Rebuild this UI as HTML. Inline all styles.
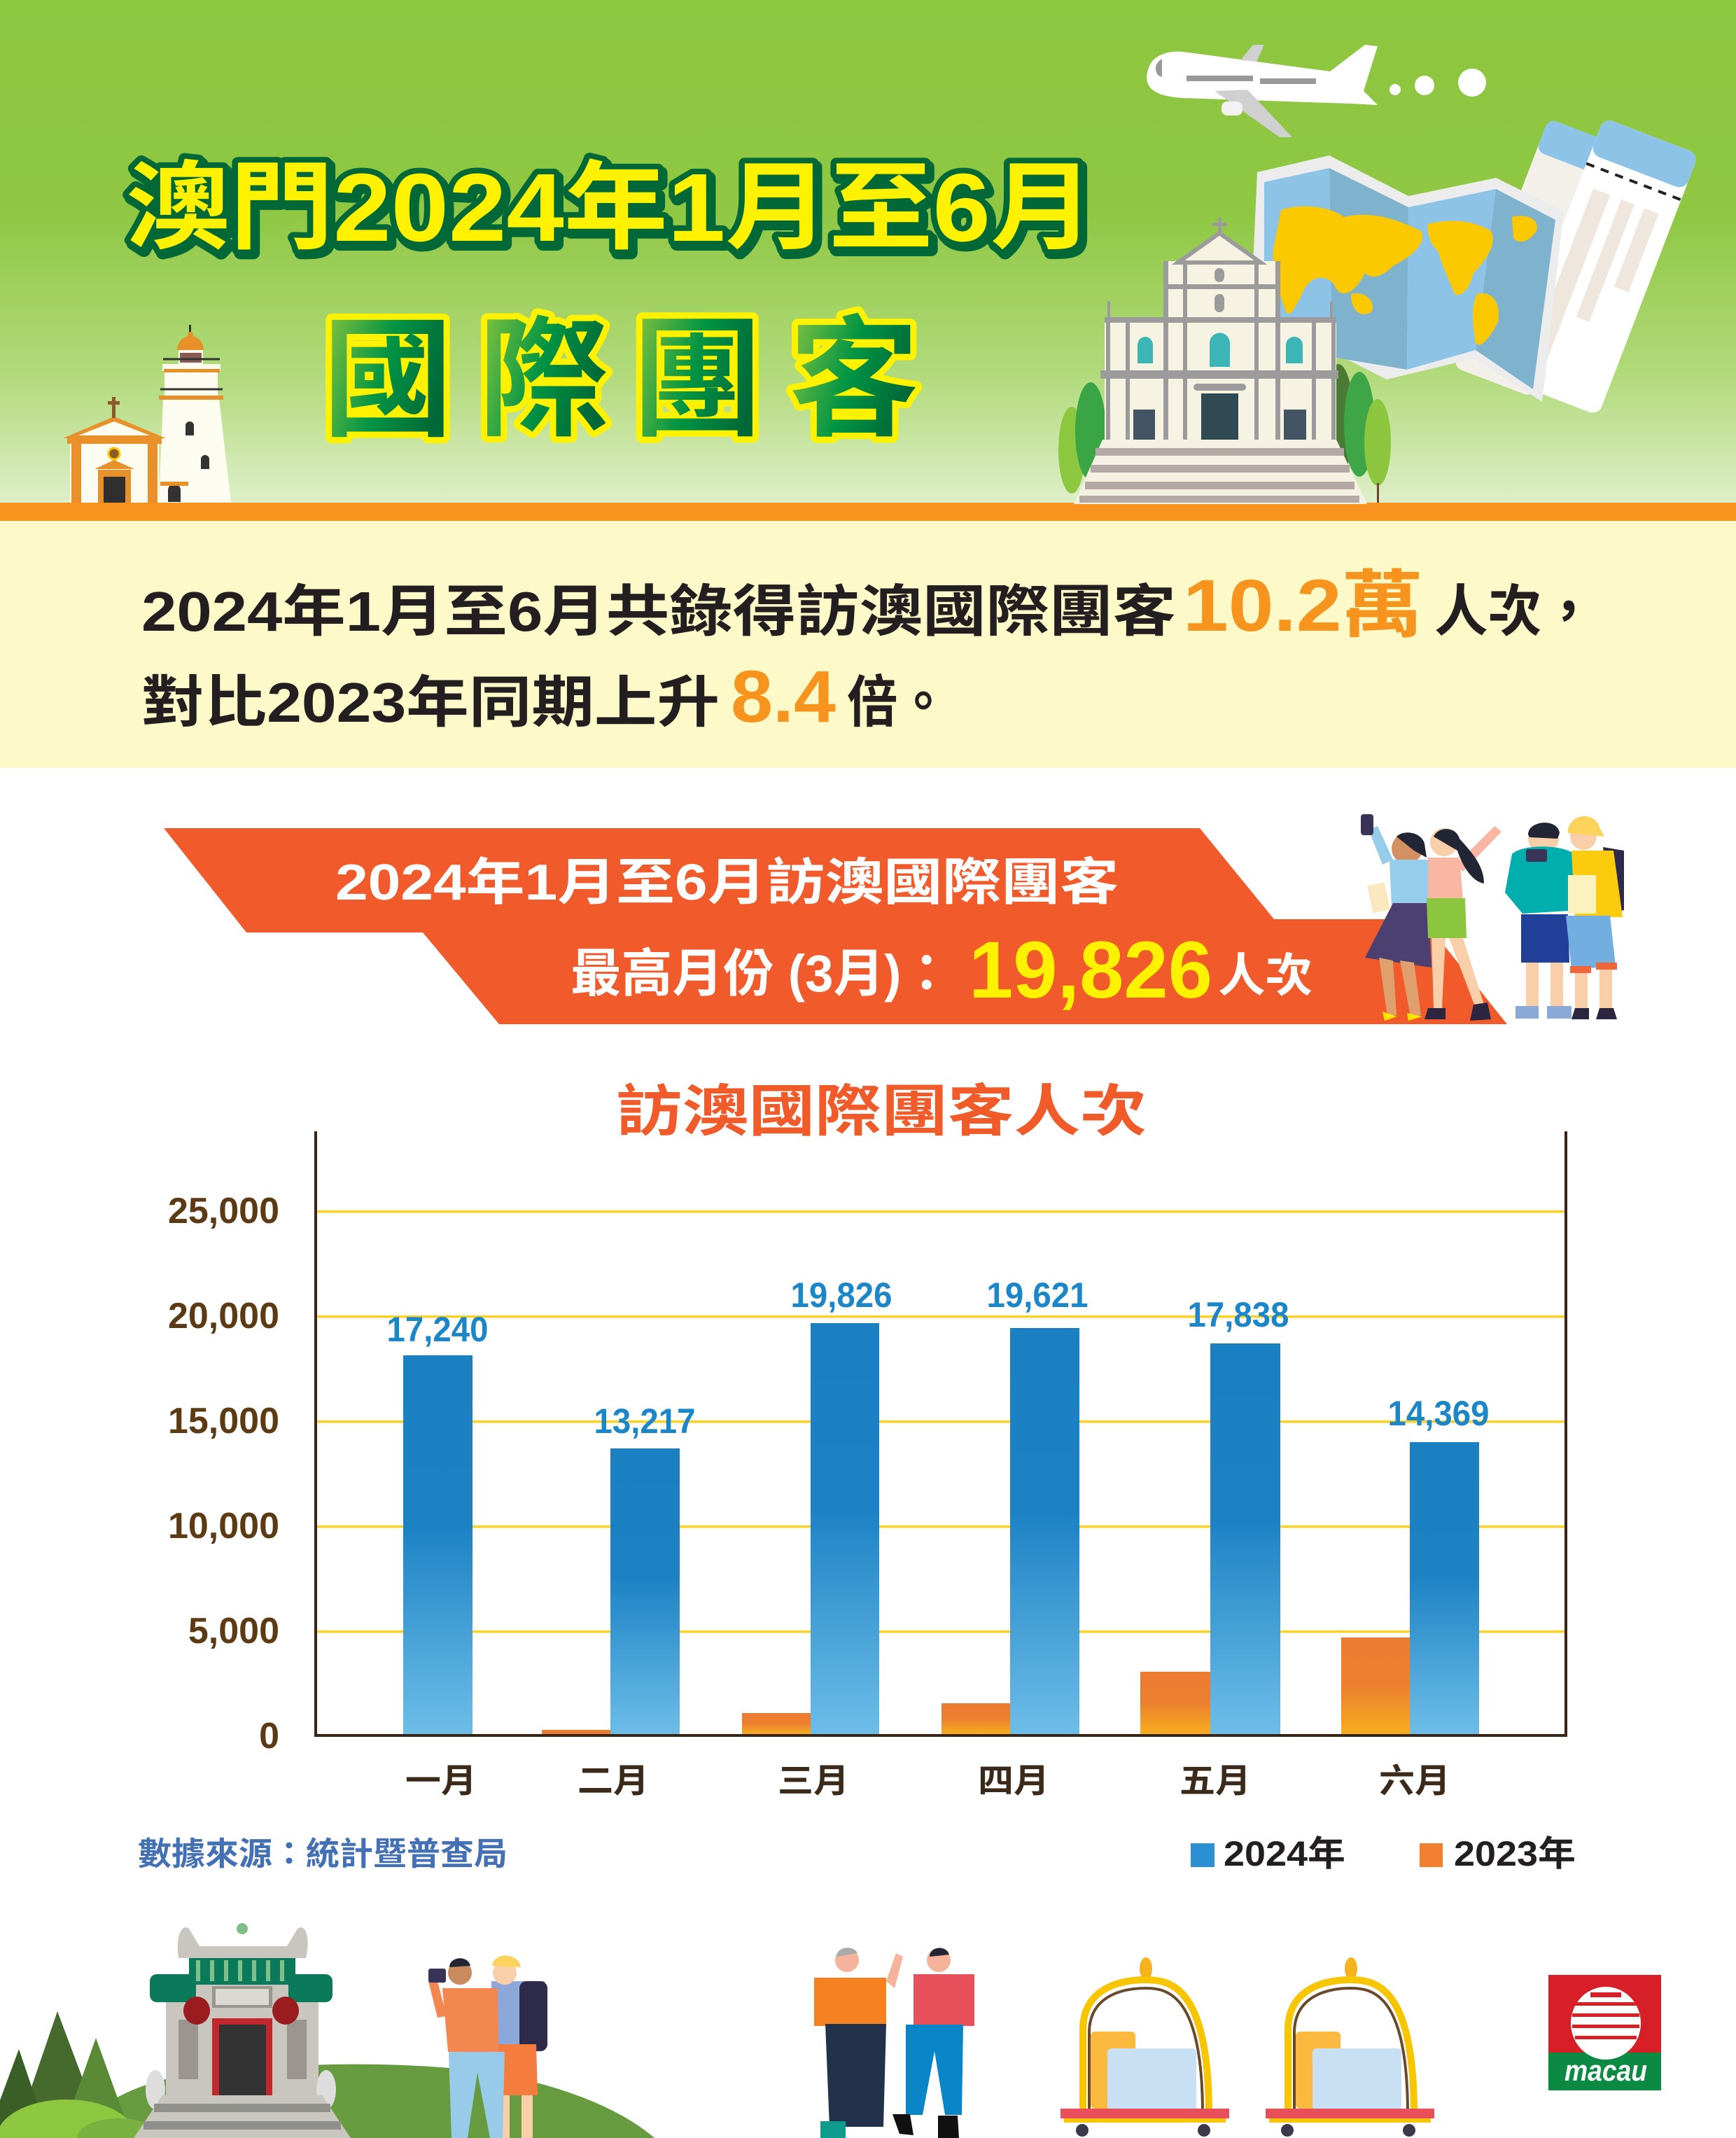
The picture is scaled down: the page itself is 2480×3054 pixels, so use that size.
<!DOCTYPE html>
<html><head><meta charset="utf-8">
<style>
html,body{margin:0;padding:0;background:#fff;}
svg{display:block;}
text{font-family:"Liberation Sans","Noto Sans CJK TC",sans-serif;}
</style></head>
<body>
<svg width="2480" height="3054" viewBox="0 0 2480 3054" xmlns="http://www.w3.org/2000/svg">
<defs>
 <linearGradient id="sky" x1="0" y1="0" x2="0" y2="1">
   <stop offset="0" stop-color="#8dc63f"/>
   <stop offset="0.42" stop-color="#8fc743"/>
   <stop offset="0.75" stop-color="#b2da7c"/>
   <stop offset="1" stop-color="#deefc8"/>
 </linearGradient>
 <linearGradient id="tg" x1="0" y1="0" x2="1" y2="0.3">
   <stop offset="0" stop-color="#8cc63f"/>
   <stop offset="0.55" stop-color="#009444"/>
   <stop offset="1" stop-color="#006837"/>
 </linearGradient>
 <linearGradient id="blue" x1="0" y1="0" x2="0" y2="1">
   <stop offset="0" stop-color="#1a80c2"/>
   <stop offset="0.45" stop-color="#1c82c4"/>
   <stop offset="1" stop-color="#6dbde8"/>
 </linearGradient>
 <linearGradient id="org" x1="0" y1="0" x2="0" y2="1">
   <stop offset="0" stop-color="#ec7c30"/>
   <stop offset="0.5" stop-color="#ec7f2f"/>
   <stop offset="1" stop-color="#f6ae1e"/>
 </linearGradient>
</defs>

<!-- backgrounds -->
<rect width="2480" height="718" fill="url(#sky)"/>
<rect y="718" width="2480" height="26" fill="#f7931e"/>
<rect y="744" width="2480" height="353" fill="#fdf9c8"/>

<!-- airplane -->
<path d="M1640,100 C1645,78 1670,72 1690,74 L1900,102 L1950,64 L1968,66 L1948,130 L1968,150 L1930,148 L1690,140 C1650,138 1632,125 1640,100 Z" fill="#fff"/>
<path d="M1735,130 L1782,128 L1846,196 L1828,196 Z" fill="#d0d0d0"/>
<path d="M1772,86 L1790,64 L1806,64 L1795,88 Z" fill="#d0d0d0"/>
<path d="M1660,84 C1650,90 1648,100 1655,108 L1660,110 Z" fill="#999"/>
<rect x="1695" y="108" width="95" height="8" fill="#999"/>
<rect x="1800" y="112" width="80" height="8" fill="#999"/>
<rect x="1745" y="145" width="30" height="20" rx="8" fill="#f2f2f2"/>
<circle cx="1993" cy="128" r="8" fill="#fff"/>
<circle cx="2035" cy="122" r="14" fill="#fff"/>
<circle cx="2103" cy="118" r="20" fill="#fff"/>

<!-- tickets -->
<g transform="rotate(21 2205 370)">
 <rect x="2140" y="180" width="120" height="380" rx="12" fill="#f3f0ea"/>
 <rect x="2140" y="180" width="120" height="50" rx="12" fill="#8ec3e8"/>
</g>
<g transform="rotate(21 2285 380)">
 <rect x="2215" y="180" width="145" height="400" rx="14" fill="#fff"/>
 <rect x="2215" y="180" width="145" height="55" rx="14" fill="#8ec3e8"/>
 <line x1="2215" y1="250" x2="2360" y2="250" stroke="#222" stroke-width="4" stroke-dasharray="12,10"/>
 <rect x="2237" y="280" width="26" height="250" fill="#efe7dd"/>
 <rect x="2280" y="280" width="20" height="180" fill="#efe7dd"/>
 <rect x="2315" y="280" width="22" height="120" fill="#efe7dd"/>
</g>

<!-- map -->
<polygon points="1796,246 1899,222 2012,280 2137,254 2234,302 2203,574 2106,512 1981,542 1870,486 1786,470" fill="#ececec"/>
<polygon points="1806,260 1899,240 1903,510 1806,476" fill="#8ec3e8"/>
<polygon points="1899,240 2012,296 2010,528 1903,510" fill="#7fb2cc"/>
<polygon points="2012,296 2137,270 2108,500 2010,528" fill="#8ec3e8"/>
<polygon points="2137,270 2222,314 2190,556 2108,500" fill="#7fb2cc"/>
<path d="M1830,300 C1860,290 1900,295 1920,310 C1960,300 2000,315 2030,330 C2040,350 2010,370 1990,380 C1975,395 1960,400 1950,390 C1935,420 1915,430 1905,405 C1890,390 1870,395 1860,420 C1850,440 1840,460 1835,440 C1825,410 1815,380 1820,350 Z" fill="#fcc800"/>
<path d="M1930,420 C1950,415 1965,430 1960,445 C1945,455 1930,445 1930,420 Z" fill="#fcc800"/>
<path d="M2040,320 C2080,310 2110,318 2130,330 C2140,350 2120,375 2105,390 C2100,410 2090,425 2078,420 C2070,400 2060,380 2055,360 C2045,350 2038,335 2040,320 Z" fill="#fcc800"/>
<path d="M2110,420 C2130,415 2145,430 2140,460 C2130,480 2115,500 2108,490 C2105,470 2100,440 2110,420 Z" fill="#fcc800"/>
<path d="M2160,310 C2180,305 2200,312 2195,330 C2185,345 2170,350 2162,340 Z" fill="#fcc800"/>

<!-- trees behind church -->
<ellipse cx="1531" cy="643" rx="19" ry="62" fill="#8dc63f"/>
<ellipse cx="1558" cy="616" rx="22" ry="70" fill="#3aa545"/>
<ellipse cx="1912" cy="600" rx="22" ry="80" fill="#4a7a33"/>
<ellipse cx="1942" cy="606" rx="22" ry="75" fill="#3fa648"/>
<ellipse cx="1968" cy="632" rx="19" ry="62" fill="#8cc63f"/>
<rect x="1556" y="680" width="3" height="38" fill="#6b4a2b"/>
<rect x="1967" y="690" width="3" height="28" fill="#6b4a2b"/>

<!-- St Paul's ruins -->
<rect x="1578" y="453" width="331" height="175" fill="#f7f3e3"/>
<rect x="1666" y="373" width="159" height="82" fill="#f7f3e3"/>
<polygon points="1683,375 1742,333 1801,375" fill="#f7f3e3" stroke="#9b9b9b" stroke-width="6"/>
<rect x="1740" y="311" width="5" height="26" fill="#9b9b9b"/>
<rect x="1732" y="318" width="21" height="5" fill="#9b9b9b"/>
<g fill="#9b9b9b">
 <rect x="1572" y="529" width="340" height="12"/>
 <rect x="1578" y="453" width="331" height="8"/>
 <rect x="1662" y="406" width="166" height="7"/>
 <rect x="1662" y="373" width="7" height="255"/>
 <rect x="1822" y="373" width="7" height="255"/>
 <rect x="1690" y="373" width="6" height="255"/>
 <rect x="1792" y="373" width="6" height="255"/>
 <rect x="1580" y="453" width="6" height="175"/>
 <rect x="1608" y="453" width="6" height="175"/>
 <rect x="1874" y="453" width="6" height="175"/>
 <rect x="1902" y="453" width="6" height="175"/>
 <rect x="1582" y="430" width="4" height="25"/>
 <rect x="1900" y="430" width="4" height="25"/>
 <rect x="1705" y="548" width="75" height="10" rx="5"/>
</g>
<path d="M1625,519 L1625,493 A11,12 0 0 1 1647,493 L1647,519 Z" fill="#3bb5b5"/>
<path d="M1728,524 L1728,490 A14,14 0 0 1 1757,490 L1757,524 Z" fill="#3bb5b5"/>
<path d="M1837,519 L1837,493 A12,12 0 0 1 1861,493 L1861,519 Z" fill="#3bb5b5"/>
<rect x="1735" y="420" width="14" height="26" rx="7" fill="#9b9b9b"/>
<rect x="1735" y="383" width="14" height="20" rx="7" fill="#9b9b9b"/>
<rect x="1619" y="585" width="31" height="43" fill="#435565"/>
<rect x="1716" y="562" width="53" height="66" fill="#2f4a52"/>
<rect x="1834" y="585" width="32" height="43" fill="#435565"/>
<polygon points="1575,628 1909,628 1953,720 1534,720" fill="#f5f1e2"/>
<rect x="1565" y="640" width="355" height="11" fill="#b5a9a5"/>
<rect x="1558" y="664" width="370" height="11" fill="#b5a9a5"/>
<rect x="1550" y="688" width="385" height="11" fill="#b5a9a5"/>
<rect x="1542" y="708" width="400" height="10" fill="#b5a9a5"/>

<!-- lighthouse and chapel -->
<polygon points="233,570 313,570 330,718 227,718" fill="#fdfcf0"/>
<rect x="235" y="530" width="76" height="40" fill="#fdfcf0"/>
<rect x="232" y="520" width="83" height="10" fill="#fdfcf0"/>
<rect x="255" y="500" width="35" height="20" fill="#fdfcf0"/>
<rect x="257" y="504" width="31" height="14" fill="#8a5a55"/>
<path d="M253,500 A19,20 0 0 1 291,500 Z" fill="#e8912a"/>
<rect x="270" y="464" width="3" height="18" fill="#333"/>
<circle cx="272" cy="478" r="4" fill="#e8912a"/>
<rect x="234" y="527" width="80" height="5" fill="#e8912a"/>
<rect x="227" y="565" width="92" height="6" fill="#e8912a"/>
<g stroke="#333" stroke-width="3" fill="none"><line x1="233" y1="513" x2="314" y2="513"/><line x1="229" y1="556" x2="318" y2="556"/></g>
<path d="M265,622 L265,608 A6,6 0 0 1 277,608 L277,622 Z" fill="#333"/>
<path d="M287,670 L287,656 A6,6 0 0 1 299,656 L299,670 Z" fill="#333"/>
<path d="M240,717 L240,700 A9,9 0 0 1 258,700 L258,717 Z" fill="#333"/>
<rect x="229" y="688" width="40" height="6" fill="#e8912a"/>
<polygon points="90,626 163,595 237,626" fill="#e8912a"/>
<polygon points="112,622 163,602 214,622" fill="#fdfcf0"/>
<rect x="100" y="626" width="127" height="92" fill="#fdfcf0"/>
<rect x="96" y="626" width="135" height="8" fill="#e8912a"/>
<rect x="102" y="634" width="14" height="84" fill="#e8912a"/>
<rect x="211" y="634" width="14" height="84" fill="#e8912a"/>
<rect x="160" y="567" width="5" height="30" fill="#8a5a2b"/>
<rect x="154" y="573" width="17" height="5" fill="#8a5a2b"/>
<polygon points="135,670 163,657 192,670" fill="#e8912a"/>
<rect x="140" y="671" width="47" height="47" fill="#e8912a"/>
<rect x="148" y="681" width="31" height="37" fill="#2f2f2f"/>
<circle cx="163" cy="648" r="8" fill="#8a5a2b" stroke="#fcc800" stroke-width="3"/>

<!-- title 1 -->
<text x="184" y="349" font-size="138" font-weight="bold" textLength="1383" lengthAdjust="spacingAndGlyphs" fill="#006837" stroke="#006837" stroke-width="18" stroke-linejoin="round">澳門2024年1月至6月</text>
<text x="180" y="344" font-size="138" font-weight="bold" textLength="1383" lengthAdjust="spacingAndGlyphs" fill="#fff200" stroke="#006837" stroke-width="16" stroke-linejoin="round" paint-order="stroke">澳門2024年1月至6月</text>

<!-- title 2 -->
<g font-size="186" font-weight="bold" text-anchor="middle" stroke="#fff200" stroke-width="18" stroke-linejoin="round" paint-order="stroke">
 <text x="554" y="607" fill="url(#tg)">國</text>
 <text x="777" y="607" fill="url(#tg)">際</text>
 <text x="996" y="607" fill="url(#tg)">團</text>
 <text x="1220" y="607" fill="url(#tg)">客</text>
</g>

<!-- cream text -->
<text x="202" y="901" font-size="80" font-weight="bold" textLength="1478" lengthAdjust="spacingAndGlyphs" fill="#231f20">2024年1月至6月共錄得訪澳國際團客</text>
<text x="1690" y="901" font-size="105" font-weight="bold" textLength="343" lengthAdjust="spacingAndGlyphs" fill="#f7941d">10.2萬</text>
<text x="2049" y="901" font-size="80" font-weight="bold" textLength="230" lengthAdjust="spacingAndGlyphs" fill="#231f20">人次，</text>
<text x="202" y="1031" font-size="80" font-weight="bold" textLength="826" lengthAdjust="spacingAndGlyphs" fill="#231f20">對比2023年同期上升</text>
<text x="1044" y="1031" font-size="105" font-weight="bold" textLength="150" lengthAdjust="spacingAndGlyphs" fill="#f7941d">8.4</text>
<text x="1210" y="1031" font-size="80" font-weight="bold" textLength="145" lengthAdjust="spacingAndGlyphs" fill="#231f20">倍。</text>

<!-- orange banner -->
<polygon points="234,1183 1714,1183 1820,1313 2033,1313 2153,1463 713,1463 604,1332 352,1332" fill="#f15a2b"/>
<text x="479" y="1285" font-size="72" font-weight="bold" textLength="1119" lengthAdjust="spacingAndGlyphs" fill="#fff">2024年1月至6月訪澳國際團客</text>
<text x="815" y="1416" font-size="74" font-weight="bold" textLength="545" lengthAdjust="spacingAndGlyphs" fill="#fff">最高月份 (3月)：</text>
<text x="1384" y="1425" font-size="115" font-weight="bold" textLength="348" lengthAdjust="spacingAndGlyphs" fill="#fff200">19,826</text>
<text x="1740" y="1416" font-size="66" font-weight="bold" textLength="135" lengthAdjust="spacingAndGlyphs" fill="#fff">人次</text>

<!-- banner people -->
<g>
 <path d="M1975,1235 L1955,1185 L1968,1180 L1990,1228 Z" fill="#95cdea"/>
 <rect x="1944" y="1163" width="18" height="30" rx="4" fill="#3a3358"/>
 <circle cx="2010" cy="1212" r="22" fill="#d39062"/>
 <path d="M1995,1195 C2005,1185 2030,1188 2035,1205 L2038,1225 L2020,1215 Z" fill="#222533"/>
 <path d="M1985,1228 L2040,1228 L2045,1295 L1988,1295 Z" fill="#95cdea"/>
 <path d="M1990,1290 L2040,1290 L2045,1382 L1950,1368 Z" fill="#4b4170"/>
 <path d="M1970,1368 L1990,1372 L1995,1450 L1982,1452 Z" fill="#e0a06e"/>
 <path d="M2000,1372 L2020,1375 L2030,1450 L2015,1452 Z" fill="#e0a06e"/>
 <path d="M1975,1445 L1996,1452 L1978,1458 Z" fill="#ffe600"/>
 <path d="M2010,1447 L2032,1452 L2012,1458 Z" fill="#ffe600"/>
 <rect x="1957" y="1262" width="25" height="40" fill="#fbe8c0" transform="rotate(-12 1970 1282)"/>
 <path d="M2080,1235 L2135,1180 L2145,1188 L2090,1245 Z" fill="#f9b6a3"/>
 <circle cx="2063" cy="1203" r="20" fill="#f8cfa8"/>
 <path d="M2048,1195 C2055,1180 2080,1180 2085,1198 C2100,1215 2120,1235 2120,1262 C2105,1260 2090,1240 2082,1215 Z" fill="#222533"/>
 <path d="M2040,1225 L2085,1225 L2090,1285 L2040,1285 Z" fill="#f9b6a3"/>
 <path d="M2038,1283 L2093,1283 L2095,1340 L2040,1340 Z" fill="#8cc63f"/>
 <path d="M2045,1340 L2065,1340 L2060,1440 L2048,1440 Z" fill="#f8cfa8"/>
 <path d="M2070,1340 L2090,1340 L2120,1435 L2108,1440 Z" fill="#f8cfa8"/>
 <path d="M2040,1440 L2065,1440 L2065,1456 L2035,1456 Z" fill="#2d2640"/>
 <path d="M2105,1435 L2125,1432 L2130,1456 L2100,1458 Z" fill="#2d2640"/>
 <circle cx="2205" cy="1197" r="22" fill="#f8cfa8"/>
 <path d="M2183,1192 C2183,1172 2225,1168 2228,1190 L2225,1198 L2185,1196 Z" fill="#222533"/>
 <path d="M2160,1220 C2175,1205 2240,1205 2255,1225 L2258,1300 L2175,1305 L2150,1275 Z" fill="#00aeae"/>
 <rect x="2180" y="1213" width="30" height="18" rx="3" fill="#3a3358"/>
 <path d="M2173,1306 L2240,1306 L2242,1375 L2173,1375 Z" fill="#22409a"/>
 <rect x="2180" y="1375" width="18" height="62" fill="#f8cfa8"/>
 <rect x="2215" y="1375" width="18" height="62" fill="#f8cfa8"/>
 <path d="M2165,1437 L2198,1437 L2198,1455 L2165,1455 Z" fill="#8aa8d8"/>
 <path d="M2210,1437 L2245,1437 L2245,1455 L2210,1455 Z" fill="#8aa8d8"/>
 <path d="M2290,1210 L2320,1215 L2320,1300 L2300,1305 Z" fill="#2e2a4a"/>
 <circle cx="2262" cy="1195" r="19" fill="#f8cfa8"/>
 <path d="M2240,1185 C2245,1160 2280,1160 2285,1182 L2292,1195 L2240,1190 Z" fill="#fdd35b"/>
 <path d="M2245,1215 L2305,1215 L2318,1310 L2250,1310 Z" fill="#fccb0d"/>
 <rect x="2240" y="1250" width="40" height="55" fill="#fbf2c0"/>
 <path d="M2237,1308 L2300,1308 L2308,1380 L2245,1385 Z" fill="#72aee0"/>
 <rect x="2243" y="1380" width="30" height="10" fill="#f0663a"/>
 <rect x="2280" y="1375" width="30" height="10" fill="#f0663a"/>
 <rect x="2250" y="1390" width="18" height="50" fill="#f8cfa8"/>
 <rect x="2285" y="1385" width="18" height="55" fill="#f8cfa8"/>
 <path d="M2250,1440 L2270,1440 L2270,1456 L2245,1456 Z" fill="#2d2640"/>
 <path d="M2285,1440 L2305,1440 L2310,1456 L2280,1456 Z" fill="#2d2640"/>
</g>

<!-- chart title -->
<text x="880" y="1615" font-size="80" font-weight="bold" textLength="758" lengthAdjust="spacingAndGlyphs" fill="#f15a29">訪澳國際團客人次</text>

<!-- gridlines -->
<g fill="#fcd21f">
 <rect x="453" y="1729" width="1782" height="3.5"/>
 <rect x="453" y="1879" width="1782" height="3.5"/>
 <rect x="453" y="2029" width="1782" height="3.5"/>
 <rect x="453" y="2179" width="1782" height="3.5"/>
 <rect x="453" y="2329" width="1782" height="3.5"/>
</g>

<!-- bars -->
<rect x="576" y="1936" width="99" height="541" fill="url(#blue)"/>
<rect x="774" y="2471" width="98" height="6" fill="#ec7c30"/>
<rect x="872" y="2069" width="99" height="408" fill="url(#blue)"/>
<rect x="1060" y="2447" width="98" height="30" fill="url(#org)"/>
<rect x="1158" y="1890" width="98" height="587" fill="url(#blue)"/>
<rect x="1345" y="2433" width="98" height="44" fill="url(#org)"/>
<rect x="1443" y="1897" width="99" height="580" fill="url(#blue)"/>
<rect x="1629" y="2388" width="100" height="89" fill="url(#org)"/>
<rect x="1729" y="1919" width="100" height="558" fill="url(#blue)"/>
<rect x="1916" y="2339" width="98" height="138" fill="url(#org)"/>
<rect x="2014" y="2060" width="99" height="417" fill="url(#blue)"/>

<!-- axes -->
<g fill="#3c2415">
 <rect x="449" y="1616" width="4" height="865"/>
 <rect x="2235" y="1616" width="4" height="865"/>
 <rect x="449" y="2477" width="1790" height="4"/>
</g>

<!-- y labels -->
<g font-size="52" font-weight="bold" fill="#5b3a14" text-anchor="end">
 <text x="399" y="1747">25,000</text>
 <text x="399" y="1897">20,000</text>
 <text x="399" y="2047">15,000</text>
 <text x="399" y="2197">10,000</text>
 <text x="399" y="2347">5,000</text>
 <text x="399" y="2497">0</text>
</g>

<!-- value labels -->
<g font-size="50" font-weight="bold" fill="#1b87c9" text-anchor="middle">
 <text x="625" y="1916" textLength="145" lengthAdjust="spacingAndGlyphs">17,240</text>
 <text x="921" y="2047" textLength="145" lengthAdjust="spacingAndGlyphs">13,217</text>
 <text x="1202" y="1867" textLength="145" lengthAdjust="spacingAndGlyphs">19,826</text>
 <text x="1482" y="1867" textLength="145" lengthAdjust="spacingAndGlyphs">19,621</text>
 <text x="1769" y="1895" textLength="145" lengthAdjust="spacingAndGlyphs">17,838</text>
 <text x="2055" y="2036" textLength="145" lengthAdjust="spacingAndGlyphs">14,369</text>
</g>

<!-- x labels -->
<g font-size="48" font-weight="bold" fill="#3b2a1a" text-anchor="middle">
 <text x="630" y="2560" textLength="102" lengthAdjust="spacingAndGlyphs">一月</text>
 <text x="876" y="2560" textLength="102" lengthAdjust="spacingAndGlyphs">二月</text>
 <text x="1162" y="2560" textLength="102" lengthAdjust="spacingAndGlyphs">三月</text>
 <text x="1448" y="2560" textLength="102" lengthAdjust="spacingAndGlyphs">四月</text>
 <text x="1736" y="2560" textLength="102" lengthAdjust="spacingAndGlyphs">五月</text>
 <text x="2021" y="2560" textLength="102" lengthAdjust="spacingAndGlyphs">六月</text>
</g>

<!-- source + legend -->
<text x="197" y="2664" font-size="46" font-weight="bold" textLength="528" lengthAdjust="spacingAndGlyphs" fill="#4470b5">數據來源：統計暨普查局</text>
<rect x="1701" y="2633" width="34" height="34" fill="#2b8fd3"/>
<text x="1748" y="2665" font-size="50" font-weight="bold" textLength="174" lengthAdjust="spacingAndGlyphs" fill="#231f20">2024年</text>
<rect x="2028" y="2633" width="33" height="34" fill="#f08030"/>
<text x="2077" y="2665" font-size="50" font-weight="bold" textLength="174" lengthAdjust="spacingAndGlyphs" fill="#231f20">2023年</text>

<!-- bottom illustrations -->
<path d="M100,3054 Q150,2985 260,2965 Q500,2935 700,2960 Q860,2990 935,3054 Z" fill="#669c3f"/>
<polygon points="82,2873 150,3054 20,3054" fill="#466a2e"/>
<polygon points="137,2911 180,3030 95,3030" fill="#5a8a36"/>
<polygon points="27,2927 70,3054 0,3054 0,3000" fill="#3a5f26"/>
<ellipse cx="95" cy="3054" rx="100" ry="55" fill="#8dc63f"/>
<ellipse cx="170" cy="3054" rx="60" ry="28" fill="#7ab040"/>
<!-- temple -->
<path d="M255,2797 C250,2760 262,2748 270,2755 L285,2780 L410,2780 L425,2755 C433,2748 445,2760 437,2797 Z" fill="#c9c5bf"/>
<circle cx="346" cy="2755" r="8" fill="#7fc08a"/>
<rect x="237" y="2833" width="218" height="160" fill="#c9c5bf"/>
<rect x="214" y="2820" width="66" height="40" rx="10" fill="#0a7a5a"/>
<rect x="412" y="2820" width="63" height="40" rx="10" fill="#0a7a5a"/>
<rect x="270" y="2797" width="152" height="38" fill="#0a7a5a"/>
<g fill="#7fc08a"><rect x="280" y="2800" width="6" height="30"/><rect x="300" y="2800" width="6" height="30"/><rect x="320" y="2800" width="6" height="30"/><rect x="340" y="2800" width="6" height="30"/><rect x="360" y="2800" width="6" height="30"/><rect x="380" y="2800" width="6" height="30"/><rect x="400" y="2800" width="6" height="30"/></g>
<rect x="303" y="2837" width="86" height="31" fill="#9a968f"/>
<rect x="308" y="2841" width="76" height="23" fill="#dcd8d2"/>
<rect x="303" y="2883" width="86" height="110" fill="#c1272d"/>
<rect x="313" y="2892" width="67" height="101" fill="#333"/>
<rect x="255" y="2885" width="28" height="85" fill="#9a968f"/>
<rect x="410" y="2885" width="28" height="85" fill="#9a968f"/>
<ellipse cx="281" cy="2872" rx="19" ry="20" fill="#9b1c1f"/>
<ellipse cx="408" cy="2872" rx="19" ry="20" fill="#9b1c1f"/>
<ellipse cx="222" cy="2985" rx="14" ry="28" fill="#ddd"/>
<ellipse cx="466" cy="2985" rx="14" ry="28" fill="#ddd"/>
<polygon points="232,2993 460,2993 501,3054 191,3054" fill="#c9c5bf"/>
<rect x="220" y="3005" width="252" height="12" fill="#8f8f8c"/>
<rect x="205" y="3030" width="282" height="12" fill="#8f8f8c"/>
<!-- people with camera -->
<path d="M702,2830 L778,2830 L782,2923 L702,2923 Z" fill="#8ba8d8"/>
<rect x="742" y="2830" width="40" height="100" rx="10" fill="#2e2a4a"/>
<path d="M702,2920 L766,2920 L768,2993 L705,2993 Z" fill="#f47c3c"/>
<rect x="712" y="2993" width="16" height="61" fill="#f8cfa8"/>
<rect x="745" y="2993" width="16" height="61" fill="#f8cfa8"/>
<circle cx="721" cy="2818" r="17" fill="#f8cfa8"/>
<path d="M703,2808 C705,2788 740,2788 744,2810 Z" fill="#fdd35b"/>
<circle cx="657" cy="2818" r="17" fill="#c98a5e"/>
<path d="M642,2810 C642,2795 668,2792 672,2808 Z" fill="#222533"/>
<path d="M632,2840 L711,2840 L712,2931 L640,2931 Z" fill="#f4874f"/>
<path d="M612,2830 L625,2830 L638,2880 L625,2882 Z" fill="#f4874f"/>
<rect x="612" y="2812" width="25" height="20" rx="3" fill="#3a3358"/>
<path d="M641,2931 L721,2931 L718,3054 L700,3054 L682,2960 L668,3054 L645,3054 Z" fill="#98cbea"/>
<!-- middle people -->
<circle cx="1210" cy="2800" r="17" fill="#f4b39a"/>
<path d="M1195,2795 C1195,2780 1220,2778 1225,2790 Z" fill="#aaa"/>
<path d="M1163,2825 L1266,2825 L1266,2894 L1163,2894 Z" fill="#f58220"/>
<path d="M1266,2830 L1280,2790 L1290,2795 L1278,2840 Z" fill="#f4b39a"/>
<path d="M1179,2891 L1266,2891 L1262,3038 L1185,3038 Z" fill="#22324a"/>
<rect x="1172" y="3030" width="36" height="24" fill="#0f9b8e"/>
<circle cx="1341" cy="2800" r="17" fill="#f4b39a"/>
<path d="M1328,2795 C1328,2780 1352,2778 1356,2792 Z" fill="#222533"/>
<path d="M1305,2820 L1392,2820 L1392,2894 L1305,2894 Z" fill="#e8505b"/>
<path d="M1294,2892 L1376,2892 L1374,3021 L1350,3021 L1335,2930 L1318,3021 L1294,3021 Z" fill="#0a85c7"/>
<path d="M1275,3020 L1300,3020 L1305,3050 L1285,3048 Z" fill="#111"/>
<path d="M1340,3022 L1368,3022 L1370,3054 L1340,3054 Z" fill="#111"/>
<!-- luggage carts -->
<g id="cart1">
 <ellipse cx="1637" cy="2812" rx="9" ry="16" fill="#f7b21f"/>
 <path d="M1547,3020 L1547,2900 C1547,2840 1600,2828 1637,2828 C1674,2828 1727,2840 1727,3020" fill="none" stroke="#f7c600" stroke-width="10"/>
 <path d="M1556,3020 L1556,2904 C1556,2850 1605,2840 1637,2840 C1669,2840 1718,2850 1718,3020" fill="none" stroke="#6b4a2b" stroke-width="4"/>
 <rect x="1558" y="2902" width="64" height="110" rx="6" fill="#fbb940"/>
 <rect x="1582" y="2926" width="127" height="88" rx="6" fill="#c9e0f4"/>
 <rect x="1515" y="3012" width="241" height="14" fill="#e94e5b"/>
 <rect x="1520" y="3026" width="231" height="6" fill="#f7c600"/>
 <circle cx="1546" cy="3043" r="9" fill="#3a3a4a"/>
 <circle cx="1720" cy="3043" r="9" fill="#3a3a4a"/>
</g>
<use href="#cart1" transform="translate(293,0)"/>
<!-- macau logo -->
<rect x="2212" y="2821" width="161" height="111" fill="#d71f27"/>
<rect x="2212" y="2932" width="161" height="54" fill="#0c8a43"/>
<ellipse cx="2294" cy="2890" rx="50" ry="52" fill="#fff"/>
<g fill="#d71f27">
 <rect x="2250" y="2860" width="88" height="5"/>
 <rect x="2246" y="2876" width="96" height="5"/>
 <rect x="2246" y="2892" width="96" height="5"/>
 <rect x="2250" y="2908" width="88" height="5"/>
 <rect x="2272" y="2846" width="44" height="7"/>
</g>
<text x="2294" y="2972" font-size="42" font-weight="bold" font-style="italic" fill="#fff" text-anchor="middle" textLength="118" lengthAdjust="spacingAndGlyphs">macau</text>
</svg>
</body></html>
